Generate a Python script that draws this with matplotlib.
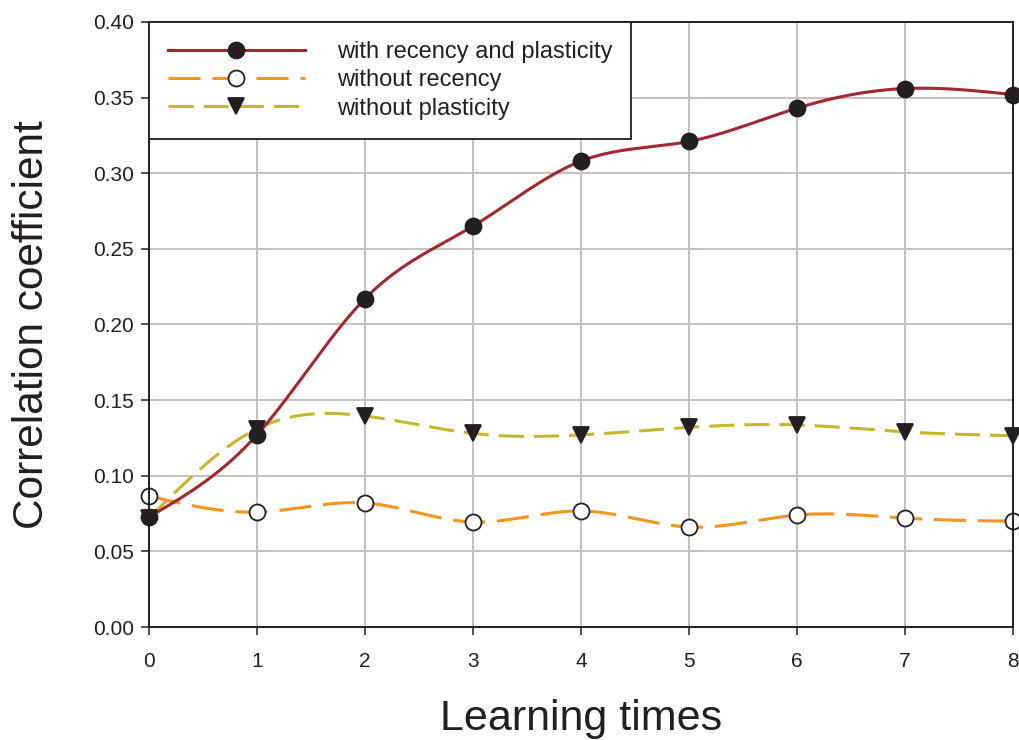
import numpy as np
import matplotlib
matplotlib.use("Agg")
import matplotlib.pyplot as plt
from matplotlib.lines import Line2D

# Learning iterations and correlation coefficients for each model variant
learning_times = [0, 1, 2, 3, 4, 5, 6, 7, 8]
with_recency_and_plasticity = [0.0727, 0.127, 0.217, 0.265, 0.308, 0.321, 0.343, 0.356, 0.352]
without_recency = [0.0866, 0.0760, 0.0820, 0.0694, 0.0767, 0.0661, 0.0740, 0.0720, 0.0700]
without_plasticity = [0.0720, 0.131, 0.1395, 0.128, 0.127, 0.132, 0.1336, 0.129, 0.1265]

series_labels = ["with recency and plasticity", "without recency", "without plasticity"]
x_ticks = [0, 1, 2, 3, 4, 5, 6, 7, 8]
y_ticks = [0.00, 0.05, 0.10, 0.15, 0.20, 0.25, 0.30, 0.35, 0.40]


def natural_spline(x, y, n=400):
    """Smooth curve through the points using a natural cubic spline."""
    x = np.asarray(x, float)
    y = np.asarray(y, float)
    k = len(x)
    h = np.diff(x)
    A = np.zeros((k, k))
    b = np.zeros(k)
    A[0, 0] = A[-1, -1] = 1.0
    for i in range(1, k - 1):
        A[i, i - 1] = h[i - 1]
        A[i, i] = 2 * (h[i - 1] + h[i])
        A[i, i + 1] = h[i]
        b[i] = 3 * ((y[i + 1] - y[i]) / h[i] - (y[i] - y[i - 1]) / h[i - 1])
    c = np.linalg.solve(A, b)
    xs = np.linspace(x[0], x[-1], n)
    idx = np.clip(np.searchsorted(x, xs, side="right") - 1, 0, k - 2)
    dx = xs - x[idx]
    hi = h[idx]
    bi = (y[idx + 1] - y[idx]) / hi - hi * (2 * c[idx] + c[idx + 1]) / 3
    di = (c[idx + 1] - c[idx]) / (3 * hi)
    ys = y[idx] + bi * dx + c[idx] * dx ** 2 + di * dx ** 3
    return xs, ys


plt.rcParams["font.family"] = ["Liberation Sans", "DejaVu Sans"]

fig = plt.figure(figsize=(10.2, 7.4), dpi=100)
ax = fig.add_axes([0.146, 0.1527, 0.847, 0.8176])

red = "#a2272e"
orange = "#f7941e"
olive = "#c9b52b"
ink = "#231f20"
lw = 2.2

styles = [
    dict(color=red, dashes=None, marker="o", mfc=ink, ms=11.5),
    dict(color=orange, dashes=(10.5, 3.9), marker="o", mfc="white", ms=11.5),
    dict(color=olive, dashes=(8.2, 3.3), marker="v", mfc=ink, ms=11),
]
data = [with_recency_and_plasticity, without_recency, without_plasticity]

handles = []
for vals, st, z in zip(data, styles, [5, 4, 3]):
    xs, ys = natural_spline(learning_times, vals)
    line, = ax.plot(xs, ys, color=st["color"], lw=lw, zorder=z)
    if st["dashes"]:
        line.set_dashes(st["dashes"])
    ax.plot(learning_times, vals, ls="none", marker=st["marker"], ms=st["ms"],
            mfc=st["mfc"], mec=ink, mew=1.3, zorder=z + 3, clip_on=False)
    h = Line2D([], [], color=st["color"], lw=lw, marker=st["marker"], ms=st["ms"],
               mfc=st["mfc"], mec=ink, mew=1.3)
    if st["dashes"]:
        h.set_dashes(st["dashes"])
    handles.append(h)

ax.set_xlim(0, 8)
ax.set_ylim(0, 0.40)
ax.set_xticks(x_ticks)
ax.set_yticks(y_ticks)
ax.set_xticklabels([str(t) for t in x_ticks], fontsize=15)
ax.set_yticklabels([f"{t:.2f}" for t in y_ticks], fontsize=15)
ax.tick_params(axis="both", direction="out", length=6, width=1.1, color=ink, labelcolor=ink)
ax.tick_params(axis="x", pad=12)
ax.tick_params(axis="y", pad=5)

ax.grid(True, color="#c8bfbf", lw=1.4)
ax.set_axisbelow(True)
for s in ax.spines.values():
    s.set_color(ink)
    s.set_linewidth(1.4)
    s.set_zorder(10)

ax.set_xlabel("Learning times", fontsize=31, color=ink, labelpad=20)
ax.set_ylabel("Correlation coefficient", fontsize=30.5, color=ink, labelpad=29)

leg = ax.legend(handles, series_labels, loc="upper left", bbox_to_anchor=(0, 1),
                borderaxespad=0, fontsize=17, handlelength=5.8, handletextpad=1.36,
                numpoints=1, fancybox=False, framealpha=1, edgecolor=ink,
                labelspacing=0.27, borderpad=0.8, labelcolor=ink)
leg.get_frame().set_linewidth(1.3)
leg.set_zorder(20)

fig.savefig("out.png", dpi=100)
